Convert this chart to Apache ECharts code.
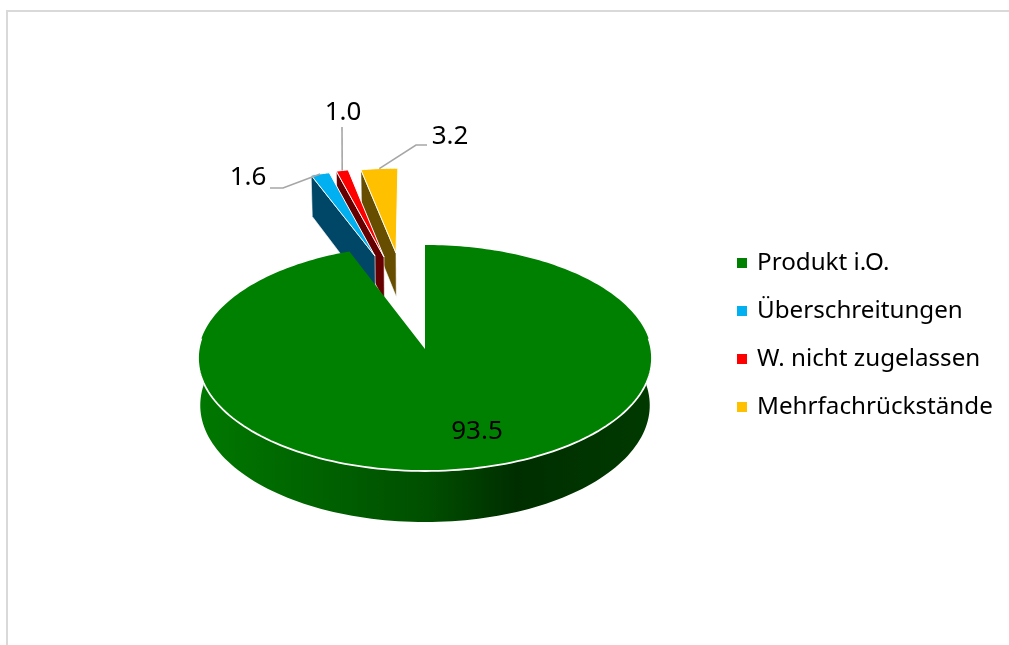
<!DOCTYPE html>
<html><head><meta charset="utf-8">
<style>html,body{margin:0;padding:0;background:#fff}#c{width:1009px;height:645px}</style>
<script src="https://cdn.jsdelivr.net/npm/echarts@6/dist/echarts.min.js"></script>
</head><body><div id="c"></div>
<script>
const categories = ['Produkt i.O.', 'Überschreitungen', 'W. nicht zugelassen', 'Mehrfachrückstände'];
const values = [93.5, 1.6, 1.0, 3.2];
const topColors = ['#008000', '#00B0F0', '#FF0000', '#FFC000'];
const sideColors = ['#005000', '#004666', '#660000', '#664D00'];

// Layout of the perspective pie (not data)
const CX = 425, CY = 349, A = 226.3, B = 112.3, K = 0.0796, DEPTH = 47;
const explodePx = [[0, 0], [-50, -93], [-41, -92], [-29, -96]];
const radiusScale = [1, 0.94, 0.97, 0.93];
const FONT = '26px "Noto Sans"';
const labelPos = [[477, 432], [248, 178], [343, 113], [450, 137]];
const leaderElbow = [null, [[270, 188], [283, 188]], [[342, 127]], [[427, 145], [416, 145]]];

const total = values.reduce((a, b) => a + b, 0);
function project(u, v) {
  const w = 1 - K * v;
  return [CX + A * u / w, CY + B * v / w, w];
}
function lower(p) {
  return [CX + (p[0] - CX) * 0.99, p[1] + DEPTH / p[2]];
}
function sliceGeom(i) {
  // clockwise from 12 o'clock
  let s = 0; for (let j = 0; j < i; j++) s += values[j];
  const a0 = s / total * 2 * Math.PI, a1 = (s + values[i]) / total * 2 * Math.PI;
  const [dx, dy] = explodePx[i];
  const dv = dy / (B + K * dy);
  const du = dx * (1 - K * dv) / A;
  const r = radiusScale[i];
  const pt = a => project(du + r * Math.sin(a), dv - r * Math.cos(a));
  return { a0, a1, pt, tip: project(du, dv) };
}
function arc(g, from, to, n) {
  const out = [];
  for (let k = 0; k <= n; k++) out.push(g.pt(from + (to - from) * k / n));
  return out;
}
const xy = p => [p[0], p[1]];

function renderSlice(i) {
  return function () {
    const g = sliceGeom(i);
    const children = [];
    const front = i === 0 ? arc(g, Math.PI * 0.47, Math.PI * 1.53, 120) : null;
    if (i === 0) {
      const poly = front.map(xy).concat(front.slice().reverse().map(lower));
      children.push({ type: 'polygon', shape: { points: poly }, style: {
        fill: new echarts.graphic.LinearGradient(0, 0, 1, 0, [
          { offset: 0, color: '#007800' }, { offset: 0.15, color: '#006c00' }, { offset: 0.5, color: '#004f00' },
          { offset: 0.7, color: '#002e00' }, { offset: 1, color: '#003a00' }]) } });
    } else {
      const outer = g.pt(g.a0);
      children.push({ type: 'polygon', shape: { points: [xy(outer), xy(g.tip), lower(g.tip), lower(outer)] },
        style: { fill: sideColors[i], stroke: '#ffffff', lineWidth: 0.6 } });
    }
    const top = [xy(g.tip)].concat(arc(g, g.a0, g.a1, Math.max(6, Math.round(values[i] * 3))).map(xy));
    children.push({ type: 'polygon', shape: { points: top },
      style: i === 0 ? { fill: topColors[i] } : { fill: topColors[i], stroke: '#ffffff', lineWidth: 1 } });
    if (i === 0) {
      children.push({ type: 'polyline', shape: { points: front.map(xy) },
        style: { fill: null, stroke: '#ffffff', lineWidth: 1.8 } });
    }
    if (leaderElbow[i]) {
      const mid = g.pt((g.a0 + g.a1) / 2);
      children.push({ type: 'polyline', shape: { points: leaderElbow[i].concat([xy(mid)]) },
        style: { fill: null, stroke: '#A6A6A6', lineWidth: 1.6 } });
    }
    children.push({ type: 'text', style: { text: values[i].toFixed(1), x: labelPos[i][0], y: labelPos[i][1],
      font: FONT, fill: '#000', align: 'center', verticalAlign: 'middle' } });
    return { type: 'group', children };
  };
}

const drawOrder = [3, 2, 1, 0];
const series = drawOrder.map(i => ({
  type: 'custom', name: categories[i], coordinateSystem: 'none', silent: true, animation: false,
  itemStyle: { color: topColors[i] }, data: [values[i]], renderItem: renderSlice(i), clip: false
}));

const chart = echarts.init(document.getElementById('c'), null, { renderer: 'canvas' });
chart.setOption({
  animation: false,
  backgroundColor: '#fff',
  graphic: [{ type: 'rect', silent: true, shape: { x: 7, y: 11, width: 1200, height: 1000 },
    style: { fill: 'none', stroke: '#D9D9D9', lineWidth: 2 } }],
  legend: {
    data: categories, orient: 'vertical', left: 732, top: 242, icon: 'rect',
    itemWidth: 10, itemHeight: 10, itemGap: 16, selectedMode: false, padding: 5,
    textStyle: { fontFamily: 'Noto Sans', fontSize: 24.2, color: '#000', lineHeight: 32, padding: [0, 0, 0, 5] }
  },
  series
});
</script></body></html>
